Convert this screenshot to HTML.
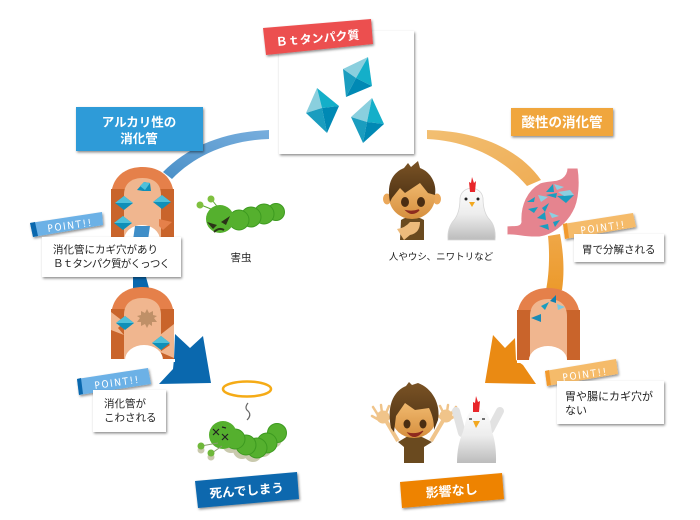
<!DOCTYPE html>
<html><head><meta charset="utf-8"><style>
html,body{margin:0;padding:0;background:#fff}
svg{display:block}
text{font-family:"Liberation Sans","Noto Sans CJK JP",sans-serif}
.c{fill:#222;font-size:10.5px}
.p{fill:#fff;font-size:10px;letter-spacing:1.6px;font-family:"DejaVu Sans Condensed","Liberation Sans",sans-serif}
.w{fill:#fff;font-weight:bold;text-anchor:middle}
</style></head><body>
<svg width="700" height="520" viewBox="0 0 700 520" xmlns="http://www.w3.org/2000/svg">
<defs>
<filter id="s" x="-20%" y="-20%" width="140%" height="140%"><feDropShadow dx="1" dy="1.5" stdDeviation="1.2" flood-color="#000" flood-opacity=".45"/></filter>
<linearGradient id="bl" x1="1" y1="0" x2="0" y2="1"><stop offset="0" stop-color="#78aedd"/><stop offset="1" stop-color="#4a90c8"/></linearGradient>
<linearGradient id="or" x1="0" y1="0" x2="1" y2="1"><stop offset="0" stop-color="#f2bf72"/><stop offset="1" stop-color="#efad55"/></linearGradient>
<linearGradient id="or2" x1="0" y1="0" x2="0" y2="1"><stop offset="0" stop-color="#efa747"/><stop offset="1" stop-color="#ec9a2c"/></linearGradient>
<linearGradient id="ch" x1="0" y1="0" x2="0" y2="1"><stop offset="0" stop-color="#fdfdfd"/><stop offset=".5" stop-color="#ededed"/><stop offset="1" stop-color="#bcbcbc"/></linearGradient>
<linearGradient id="fc" x1="0" y1="0" x2="0" y2="1"><stop offset="0" stop-color="#f4bf76"/><stop offset="1" stop-color="#d68f3e"/></linearGradient>
<linearGradient id="hr" x1="0" y1="0" x2="0" y2="1"><stop offset="0" stop-color="#7a5325"/><stop offset="1" stop-color="#4e3214"/></linearGradient>
<g id="dia"><polygon points="-9,0 0,-7 9,0 0,7" fill="#0f8fb8"/><polygon points="-9,0 0,-7 9,0" fill="#4fc0da"/></g>
<g id="arch">
<path d="M0,72 V31 C0,10 14,0 31.500,0 C49,0 63,10 63,31 V72 Z" fill="#e5804a"/>
<rect x="0" y="22" width="63" height="50" fill="#c9642b"/>
<path d="M13,72 V28 C13,17 20,11 31.500,11 C43,11 50,17 50,28 V72 Z" fill="#f0b68f"/>
</g>
</defs>

<!-- arcs -->
<path d="M269,130 C225,132 190,145 163,172 L172,179 C195,155 230,140 269,139 Z" fill="url(#bl)"/>
<path d="M133,277 H146 L149,288 H133 Z" fill="#0a68ae"/>
<path d="M427,130 C480,131 520,150 541,180 L527,186 C505,160 470,141 427,139 Z" fill="url(#or)"/>
<path d="M548,236 C550,255 549,275 546,290 H562 C565,270 563,250 560,234 Z" fill="url(#or2)"/>

<!-- blue arrow -->
<polygon points="175,334 190,348 203,336 211,383 159,384 173,369 174,359" fill="#0a68ae"/>
<!-- orange arrow -->
<polygon points="493,335 505,348 515,338 516,360 523,365 536,384 485,383" fill="#ea8a13"/>

<!-- intestine 1 -->
<use href="#arch" x="111" y="167"/>
<polygon points="159,219 172,222 163,230 159,226" fill="#e5804a"/>
<use href="#dia" x="124" y="203"/>
<use href="#dia" x="162" y="202"/>
<use href="#dia" x="123" y="223"/>
<polygon points="137,190 144,182 150,183 151,191 143,191" fill="#0f8fb8"/><polygon points="140,186 144,182 150,183 145,190" fill="#4fc0da"/>
<ellipse cx="142" cy="240" rx="18" ry="15" fill="#fff"/>
<polygon points="135,226 150,226 148,240 133,240" fill="#3f8ec8"/>

<!-- intestine 2 -->
<use href="#arch" x="111" y="287"/>
<polygon points="111,312 124,322 118,328 124,335 111,330" fill="#f0b68f"/>
<polygon points="174,324 160,335 170,345 160,352 174,358" fill="#f0b68f"/>
<polygon points="147,309 149,313 153,311 153,315 157,316 154,318 157,322 152,322 152,326 149,324 147,328 145,324 141,326 141,322 137,322 140,318 137,316 141,315 141,311 145,313" fill="#bf9068"/>
<use href="#dia" x="125" y="323"/>
<use href="#dia" x="161" y="343"/>
<ellipse cx="144" cy="360" rx="19" ry="15" fill="#fff"/>
<rect x="111" y="359" width="64" height="3" fill="#fff"/>

<!-- intestine 3 -->
<use href="#arch" x="517" y="288"/>
<ellipse cx="548" cy="360" rx="19" ry="14" fill="#fff"/>
<rect x="517" y="360" width="64" height="3" fill="#fff"/>
<polygon points="541,306 549,302 545,310" fill="#1a9dbf"/>
<polygon points="550,301 556,295 556,303" fill="#0f80b0"/>
<polygon points="557,304 565,307 558,310" fill="#7cc9de"/>
<polygon points="531,318 541,314 541,322" fill="#1a8ab5"/>

<!-- stomach -->
<path d="M567,168 H578 C580,180 580,200 573,212 C568,222 552,238 535,237 C522,237 515,234 507,235 V226 C513,225 520,227 521,222 C520,205 527,190 540,183 C548,180 557,182 562,178 C566,175 567,172 567,168 Z" fill="#e5848f" stroke="#fff" stroke-width="1"/>
<g fill="#1a9dbf">
<polygon points="546,192 553,184 554,192"/><polygon points="546,195 557,193 556,198"/>
<polygon points="527,202 535,197 534,202"/><polygon points="528,209 538,207 534,213"/>
<polygon points="542,208 549,203 545,212"/><polygon points="537,218 545,212 546,220"/>
<polygon points="553,222 560,220 555,227"/><polygon points="539,226 548,224 549,230"/>
<polygon points="557,196 574,195 566,203"/>
</g>
<g fill="#8ccfe0">
<polygon points="554,184 564,187 557,190"/><polygon points="538,195 548,197 541,202"/>
<polygon points="549,212 559,216 552,218"/><polygon points="558,192 570,190 574,195 564,196"/>
</g>

<!-- central card -->
<rect x="279" y="31" width="135" height="123" fill="#fff" filter="url(#s)"/>
<polygon points="263,28 371,19 373,44 266,55" fill="#ec5050" filter="url(#s)"/>
<text class="w" transform="translate(318,42.500) rotate(-5)" font-size="12">Ｂｔタンパク質</text>

<polygon points="368,57 343,69 356,78" fill="#8acfde"/><polygon points="368,57 372,86 356,78" fill="#14afc9"/><polygon points="343,69 346,97 356,78" fill="#1a9dbf"/><polygon points="346,97 372,86 356,78" fill="#0089b4"/>
<polygon points="317,88 306,113 322,108" fill="#8acfde"/><polygon points="317,88 339,106 322,108" fill="#14afc9"/><polygon points="306,113 327,133 322,108" fill="#1a9dbf"/><polygon points="327,133 339,106 322,108" fill="#0089b4"/>
<polygon points="372,98 351,117 367,122" fill="#8acfde"/><polygon points="372,98 384,124 367,122" fill="#14afc9"/><polygon points="351,117 363,143 367,122" fill="#1a9dbf"/><polygon points="363,143 384,124 367,122" fill="#0089b4"/>

<!-- headers -->
<rect x="76" y="107" width="127" height="44" fill="#2e9bd8" filter="url(#s)"/>
<text class="w" x="139" y="126.500" font-size="12.500">アルカリ性の</text>
<text class="w" x="139" y="143" font-size="12.500">消化管</text>
<rect x="511" y="108" width="102" height="28" fill="#f0a63c" filter="url(#s)"/>
<text class="w" x="562" y="127" font-size="13.500">酸性の消化管</text>

<!-- caterpillar 1 -->
<g fill="#55b02e" stroke="#3d9a20" stroke-width="1">
<circle cx="276" cy="212" r="8.500"/><circle cx="264" cy="214" r="10"/><circle cx="251" cy="217" r="10"/><circle cx="239" cy="220" r="10"/>
</g>
<path d="M220,210 L212,200 M216,211 L201,205" stroke="#5aa52f" stroke-width="1"/>
<circle cx="211" cy="199" r="3.500" fill="#7fc03f"/><circle cx="200" cy="205" r="3.500" fill="#7fc03f"/>
<circle cx="220" cy="219" r="14" fill="#55b02e"/>
<path d="M207,222 L217,225 L213,229 Z M230,216 L221,222 L226,225 Z" fill="#2b3318"/>
<path d="M214,232 Q219,227 224,230" stroke="#2b3318" stroke-width="2" fill="none"/>
<text x="241" y="261" font-size="10.500" text-anchor="middle" fill="#222">害虫</text>

<!-- point 1 -->
<polygon points="30,223 102,212 103,225 33,237" fill="#6cb1e6" filter="url(#s)"/>
<polygon points="30,223 35,222 38,236 33,237" fill="#0a68ae"/>
<text class="p" transform="translate(48,232) rotate(-8)">POINT!!</text>
<rect x="42" y="237" width="139" height="40" fill="#fff" filter="url(#s)"/>
<text class="c" x="53" y="253">消化管にカギ穴があり</text>
<text class="c" x="53" y="267" textLength="117">Ｂｔタンパク質がくっつく</text>

<!-- point 2 -->
<polygon points="77,379 148,368 151,384 79,395" fill="#6cb1e6" filter="url(#s)"/>
<polygon points="77,379 81,378 83,394 79,395" fill="#0a68ae"/>
<text class="p" transform="translate(95,389) rotate(-8)">POINT!!</text>
<rect x="93" y="390" width="73" height="42" fill="#fff" filter="url(#s)"/>
<text class="c" x="104" y="407">消化管が</text>
<text class="c" x="104" y="421">こわされる</text>

<!-- halo + squiggle -->
<ellipse cx="247" cy="389" rx="24" ry="7.500" fill="none" stroke="#f5ab16" stroke-width="2.500"/>
<path d="M248,403 Q244,408 248,411 Q252,415 247,420" fill="none" stroke="#666" stroke-width="1.200"/>

<!-- caterpillar 2 -->
<g fill="#c9c9ad">
<circle cx="273" cy="439" r="9"/><circle cx="263" cy="448" r="9"/><circle cx="253" cy="453" r="9"/><circle cx="242" cy="450" r="9"/><circle cx="231" cy="444" r="9"/><circle cx="201" cy="450" r="3.500"/><circle cx="211" cy="457" r="3.500"/>
</g>
<g fill="#55b02e" stroke="#3d9a20" stroke-width="1">
<circle cx="277" cy="433" r="9.500"/><circle cx="267" cy="443" r="10"/><circle cx="257" cy="448" r="10"/><circle cx="246" cy="445" r="10"/><circle cx="235" cy="439" r="10"/>
</g>
<circle cx="223" cy="435" r="14" fill="#55b02e"/>
<path d="M218,443 L201,446 M222,446 L212,453" stroke="#8a9a70" stroke-width="1"/>
<circle cx="201" cy="446" r="3.500" fill="#6fb83a"/><circle cx="211" cy="453" r="3.500" fill="#6fb83a"/>
<path d="M213,429 L219,435 M219,429 L213,435 M222,434 L228,440 M228,434 L222,440 M222,427 L226,428" stroke="#222" stroke-width="1.200"/>

<polygon points="195,481 297,472 299,499 198,508" fill="#0a68ae" filter="url(#s)"/>
<text class="w" transform="translate(247,495) rotate(-4.500)" font-size="12.500">死んでしまう</text>

<!-- man 1 -->
<path d="M400,240 L401,220 Q412,213 424,220 L424,240 Z" fill="#6a4a1f"/>
<path d="M397,229 Q405,228 410,222 L420,222 Q420,233 410,235 L404,240 Z" fill="#edbb7c"/>
<ellipse cx="387" cy="199" rx="4" ry="5.500" fill="#eba85a"/><ellipse cx="437" cy="199" rx="4" ry="5.500" fill="#eba85a"/>
<ellipse cx="412" cy="197" rx="23" ry="22" fill="url(#fc)"/>
<path d="M390,202 C386,182 394,172 404,168 L408,163 L411,167 L418,161 L420,168 C431,172 437,184 435,195 L428,193 L420,183 L405,193 L400,188 L392,198 Z" fill="url(#hr)"/>
<ellipse cx="405" cy="202" rx="4" ry="5" fill="#4a2d12"/><ellipse cx="421" cy="202" rx="4" ry="5" fill="#4a2d12"/>
<path d="M407,211 Q413,216 419,210 Q413,212 407,211 Z" fill="#8e2a1e" stroke="#8e2a1e" stroke-width="1.500"/>

<!-- chicken 1 -->
<path d="M448,240 Q447,228 454,220 C459,214 460,205 460,198 C462,185 481,185 483,198 C483,205 484,214 490,220 C497,228 495,240 495,240 Z" fill="url(#ch)" stroke="#d6d6d6" stroke-width=".8"/>
<path d="M472,177 L474,183 L476,181 L475,192 L470,192 L469,182 L471,183 Z" fill="#e8262a"/>
<circle cx="466" cy="199" r="1.500" fill="#222"/><circle cx="478" cy="199" r="1.500" fill="#222"/>
<polygon points="469,202 475,202 472,207" fill="#f2a820"/>
<text x="441" y="260" font-size="9.500" text-anchor="middle" fill="#222">人やウシ、ニワトリなど</text>

<!-- point stomach -->
<polygon points="563,224 633,213 636,227 565,239" fill="#f5bb6b" filter="url(#s)"/>
<polygon points="563,224 567,223 569,238 565,239" fill="#f29a2e"/>
<text class="p" transform="translate(581,234) rotate(-8)">POINT!!</text>
<rect x="574" y="234" width="90" height="28" fill="#fff" filter="url(#s)"/>
<text class="c" x="582" y="253">胃で分解される</text>

<!-- point 3 -->
<polygon points="545,371 616,359 618,374 547,386" fill="#f5bb6b" filter="url(#s)"/>
<polygon points="545,371 549,370 551,385 547,386" fill="#f29a2e"/>
<text class="p" transform="translate(563,381) rotate(-8)">POINT!!</text>
<rect x="557" y="381" width="107" height="43" fill="#fff" filter="url(#s)"/>
<text class="c" x="565" y="400" style="font-size:11px">胃や腸にカギ穴が</text>
<text class="c" x="565" y="414" style="font-size:11px">ない</text>

<!-- man 2 -->
<path d="M404,463 L404,447 L398,442 L408,436 L420,436 L432,442 L424,447 L424,463 Z" fill="#6a4a1f"/>
<path d="M398,441 L385,419 M431,441 L444,419" stroke="#f0c48a" stroke-width="4" fill="none"/>
<circle cx="383" cy="417" r="6.500" fill="#f0c48a"/><circle cx="446" cy="416" r="6.500" fill="#f0c48a"/>
<path d="M378,415 L373,407 M382,413 L381,405 M386,413 L389,406 M388,419 L393,415 M379,420 L372,416 M451,414 L456,407 M447,412 L448,405 M443,412 L440,406 M441,418 L436,414 M450,419 L457,415" stroke="#f0c48a" stroke-width="2.500" stroke-linecap="round"/>
<ellipse cx="414" cy="418" rx="22" ry="20" fill="url(#fc)"/>
<path d="M391,428 C386,402 396,390 406,386 L409,382 L412,385 L418,383 C432,388 441,404 438,420 L434,430 C434,420 432,414 429,408 L415,410 L405,403 L396,416 L394,432 Z" fill="url(#hr)"/>
<ellipse cx="407" cy="424" rx="3.500" ry="4.500" fill="#4a2d12"/><ellipse cx="423" cy="424" rx="3.500" ry="4.500" fill="#4a2d12"/>
<path d="M408,433 Q415,441 423,431 Q416,435 408,433 Z" fill="#8e2a1e" stroke="#8e2a1e" stroke-width="1"/>

<!-- chicken 2 -->
<path d="M462,433 L456,411 M490,430 L500,411" stroke="#e2e2e2" stroke-width="8" stroke-linecap="round" fill="none"/>
<path d="M457,463 Q457,445 463,432 C466,422 466,410 478,408 C490,410 490,422 492,432 C497,445 496,463 496,463 Z" fill="url(#ch)"/>
<path d="M476,396 L478,402 L480,401 L479,412 L473,412 L473,402 L475,403 Z" fill="#e8262a"/>
<path d="M469,419 h3 M482,419 h3" stroke="#222" stroke-width="1.200"/>
<polygon points="473,421 480,421 476,428" fill="#f2a820"/>

<polygon points="400,482 502,473 504,499 402,508" fill="#ee8300" filter="url(#s)"/>
<text class="w" transform="translate(452,495.500) rotate(-4.500)" font-size="13">影響なし</text>
</svg>
</body></html>
